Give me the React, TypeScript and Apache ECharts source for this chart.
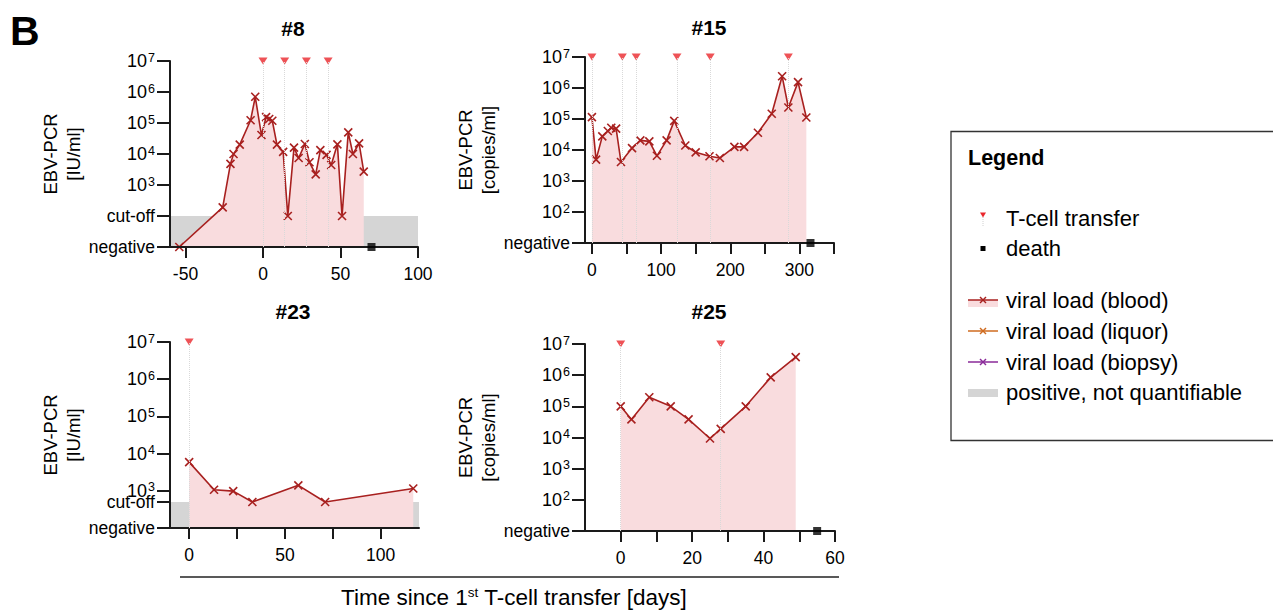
import React, { useEffect, useRef } from 'react';
import * as echarts from 'echarts';

const FONT = "'Liberation Sans', Arial, Helvetica, sans-serif";
const RED = '#a8201f';
const PINK = '#f9dcde';
const GRAY = '#d5d5d5';
const TRI = '#ea272c';
const ORANGE = '#cf6b1f';
const PURPLE = '#8a2a99';

// ---- Patient #8 (IU/ml); "negative" plotted at 10, "cut-off" at 100
const P8_NEG = 10;
const P8_CUT = 100;
const P8_DAYS = [-54, -26, -21, -19, -15, -8, -5, -1, 2, 4, 6, 9, 13, 16, 20, 23, 27, 30, 34, 37, 41, 44, 48, 51, 55, 58, 62, 65];
const P8_BLOOD = [10, 190, 4800, 10000, 20000, 123000, 700000, 41000, 155000, 135000, 118000, 20000, 11700, 100, 16000, 7400, 21000, 5400, 2200, 13400, 9400, 4400, 20500, 100, 50000, 10000, 22000, 2700];
const P8_TRANSFERS = [0, 14, 28, 42];
const P8_DEATH = [70];
const P8_X_RANGE = [-60, 100];
const P8_X_TICKS = [-50, 0, 50, 100];
const P8_X_LABELS = [-50, 0, 50, 100];

// ---- Patient #15 (copies/ml); "negative" plotted at 10
const P15_NEG = 10;
const P15_DAYS = [0, 6, 15, 23, 28, 35, 42, 58, 70, 83, 94, 108, 119, 135, 150, 170, 185, 206, 220, 240, 260, 275, 284, 298, 310];
const P15_BLOOD = [115000, 4900, 27500, 41000, 52000, 49000, 4100, 11500, 20500, 19000, 6500, 20500, 87000, 14000, 8400, 6300, 5500, 12600, 12600, 36000, 148000, 2400000, 235000, 1550000, 112000];
const P15_TRANSFERS = [0, 44, 64, 123, 171, 284];
const P15_DEATH = [316];
const P15_X_RANGE = [-10, 350];
const P15_X_TICKS = [0, 50, 100, 150, 200, 250, 300, 350];
const P15_X_LABELS = [0, 100, 200, 300];

// ---- Patient #23 (IU/ml); "negative" plotted at 100, "cut-off" at 500
const P23_NEG = 100;
const P23_CUT = 500;
const P23_DAYS = [0, 13, 23, 33, 57, 71, 117];
const P23_BLOOD = [5900, 1070, 980, 500, 1400, 500, 1150];
const P23_TRANSFERS = [0];
const P23_DEATH: number[] = [];
const P23_X_RANGE = [-10, 120];
const P23_X_TICKS = [0, 25, 50, 75, 100];
const P23_X_LABELS = [0, 50, 100];

// ---- Patient #25 (copies/ml); "negative" plotted at 10
const P25_NEG = 10;
const P25_DAYS = [0, 3, 8, 14, 19, 25, 28, 35, 42, 49];
const P25_BLOOD = [100000, 38000, 195000, 100000, 38000, 9300, 19000, 100000, 850000, 3800000];
const P25_TRANSFERS = [0, 28];
const P25_DEATH = [55];
const P25_X_RANGE = [-10, 60];
const P25_X_TICKS = [0, 10, 20, 30, 40, 50, 60];
const P25_X_LABELS = [0, 20, 40, 60];

const Y_TOP = 1e7;
const Y_TICKS_CUT8 = [10, 100, 1e3, 1e4, 1e5, 1e6, 1e7];
const Y_TICKS_COPIES = [10, 100, 1e3, 1e4, 1e5, 1e6, 1e7];
const Y_TICKS_CUT23 = [100, 500, 1e3, 1e4, 1e5, 1e6, 1e7];

const X_SYMBOL = 'path://M0 0L10 10M10 0L0 10';

type Panel = {
  title: string;
  unit: string;
  neg: number;
  cut: number | null;
  days: number[];
  blood: number[];
  transfers: number[];
  death: number[];
  xRange: number[];
  xTicks: number[];
  xLabels: number[];
  yTicks: number[];
  grid: { left: number; top: number; width: number; height: number };
  titlePos: [number, number];
};

const PANELS: Panel[] = [
  { title: '#8', unit: '[IU/ml]', neg: P8_NEG, cut: P8_CUT, days: P8_DAYS, blood: P8_BLOOD, transfers: P8_TRANSFERS, death: P8_DEATH, xRange: P8_X_RANGE, xTicks: P8_X_TICKS, xLabels: P8_X_LABELS, yTicks: Y_TICKS_CUT8, grid: { left: 170, top: 61, width: 248, height: 186 }, titlePos: [293, 28] },
  { title: '#15', unit: '[copies/ml]', neg: P15_NEG, cut: null, days: P15_DAYS, blood: P15_BLOOD, transfers: P15_TRANSFERS, death: P15_DEATH, xRange: P15_X_RANGE, xTicks: P15_X_TICKS, xLabels: P15_X_LABELS, yTicks: Y_TICKS_COPIES, grid: { left: 585, top: 57, width: 249, height: 186 }, titlePos: [709, 27] },
  { title: '#23', unit: '[IU/ml]', neg: P23_NEG, cut: P23_CUT, days: P23_DAYS, blood: P23_BLOOD, transfers: P23_TRANSFERS, death: P23_DEATH, xRange: P23_X_RANGE, xTicks: P23_X_TICKS, xLabels: P23_X_LABELS, yTicks: Y_TICKS_CUT23, grid: { left: 170, top: 342, width: 249, height: 186 }, titlePos: [293, 311] },
  { title: '#25', unit: '[copies/ml]', neg: P25_NEG, cut: null, days: P25_DAYS, blood: P25_BLOOD, transfers: P25_TRANSFERS, death: P25_DEATH, xRange: P25_X_RANGE, xTicks: P25_X_TICKS, xLabels: P25_X_LABELS, yTicks: Y_TICKS_COPIES, grid: { left: 585, top: 344, width: 250, height: 187 }, titlePos: [709, 311] },
];

const lg = (v: number) => Math.log10(v);

function buildOption() {
  const grids: any[] = [];
  const xAxes: any[] = [];
  const yAxes: any[] = [];
  const series: any[] = [];
  const graphics: any[] = [];

  PANELS.forEach((p, i) => {
    grids.push({ ...p.grid, containLabel: false });
    const axisLine = { show: true, onZero: false, lineStyle: { color: '#1a1a1a', width: 2 } };
    xAxes.push({
      type: 'value',
      gridIndex: i,
      min: p.xRange[0],
      max: p.xRange[1],
      z: 4,
      axisLine,
      splitLine: { show: false },
      axisTick: { show: true, length: 11, customValues: p.xTicks, lineStyle: { color: '#1a1a1a', width: 2 } },
      axisLabel: { customValues: p.xLabels, margin: 18, color: '#000', fontSize: 17.5, fontFamily: FONT },
    });
    const negL = lg(p.neg);
    const cutL = p.cut != null ? lg(p.cut) : null;
    yAxes.push({
      type: 'value',
      gridIndex: i,
      min: negL,
      max: lg(Y_TOP),
      z: 4,
      name: 'EBV-PCR\n' + p.unit,
      nameLocation: 'middle',
      nameRotate: 90,
      nameGap: 81,
      nameTextStyle: { color: '#000', fontSize: 18.5, lineHeight: 23, fontFamily: FONT },
      axisLine,
      splitLine: { show: false },
      axisTick: { show: true, length: 13, customValues: p.yTicks.map(lg), lineStyle: { color: '#1a1a1a', width: 2 } },
      axisLabel: {
        customValues: p.yTicks.map(lg),
        margin: 15,
        color: '#000',
        fontSize: 17.5,
        fontFamily: FONT,
        formatter: (val: number) => {
          if (Math.abs(val - negL) < 1e-6) return 'negative';
          if (cutL != null && Math.abs(val - cutL) < 1e-6) return 'cut-off';
          return `{b|10}{s|${Math.round(val)}}`;
        },
        rich: {
          b: { fontSize: 18, lineHeight: 20, fontFamily: FONT, color: '#000' },
          s: { fontSize: 12.5, lineHeight: 12, fontFamily: FONT, color: '#000', verticalAlign: 'top', padding: [0, 0, 0, 1] },
        },
      },
    });

    if (cutL != null) {
      series.push({
        type: 'line',
        xAxisIndex: i,
        yAxisIndex: i,
        data: [[p.xRange[0], cutL], [p.xRange[1], cutL]],
        symbol: 'none',
        lineStyle: { width: 0 },
        areaStyle: { color: GRAY, opacity: 1 },
        silent: true,
        z: 1,
      });
    }

    series.push({
      type: 'line',
      name: 'viral load (blood)',
      xAxisIndex: i,
      yAxisIndex: i,
      data: p.days.map((d, k) => [d, lg(p.blood[k])]),
      symbol: X_SYMBOL,
      symbolSize: 8,
      showAllSymbol: true,
      clip: false,
      lineStyle: { color: RED, width: 1.6 },
      itemStyle: { color: RED, borderColor: RED, borderWidth: 1.6 },
      areaStyle: { color: PINK, opacity: 1, origin: 'start' },
      silent: true,
      z: 2,
    });

    series.push({
      type: 'scatter',
      name: 'T-cell transfer',
      xAxisIndex: i,
      yAxisIndex: i,
      data: p.transfers.map((d) => [d, lg(Y_TOP)]),
      symbol: 'triangle',
      symbolRotate: 180,
      symbolSize: [9, 7],
      itemStyle: { color: TRI },
      silent: true,
      z: 3,
      markLine: {
        silent: true,
        symbol: ['none', 'none'],
        label: { show: false },
        lineStyle: { type: 'dotted', color: '#d9d9d9', width: 1 },
        data: p.transfers.map((d) => ({ xAxis: d })),
      },
    });

    if (p.death.length) {
      series.push({
        type: 'scatter',
        name: 'death',
        xAxisIndex: i,
        yAxisIndex: i,
        data: p.death.map((d) => [d, negL]),
        symbol: 'rect',
        symbolSize: 8,
        itemStyle: { color: '#000' },
        silent: true,
        z: 6,
      });
    }

    graphics.push({
      type: 'text',
      x: p.titlePos[0],
      y: p.titlePos[1],
      style: { text: p.title, fontSize: 21, fontWeight: 'bold', fontFamily: FONT, fill: '#000', align: 'center', verticalAlign: 'middle' },
    });
  });

  // Panel letter
  graphics.push({
    type: 'text', x: 10, y: 31,
    style: { text: 'B', fontSize: 41, fontWeight: 'bold', fontFamily: FONT, fill: '#000', align: 'left', verticalAlign: 'middle' },
  });

  // Shared x-axis title
  graphics.push({ type: 'line', shape: { x1: 180, y1: 577, x2: 839, y2: 577 }, style: { stroke: '#222', lineWidth: 1.3 } });
  graphics.push({
    type: 'text', x: 514, y: 597,
    style: {
      text: '{a|Time since 1}{s|st}{a| T-cell transfer [days]}',
      align: 'center', verticalAlign: 'middle', fill: '#000',
      rich: {
        a: { fontSize: 22.5, fontFamily: FONT, fill: '#000' },
        s: { fontSize: 13.5, fontFamily: FONT, fill: '#000', verticalAlign: 'top' },
      },
    },
  });

  // Legend box
  const txt = (x: number, y: number, t: string, bold = false) => ({
    type: 'text', x, y,
    style: { text: t, fontSize: bold ? 21.5 : 22, fontWeight: bold ? 'bold' : 'normal', fontFamily: FONT, fill: '#000', align: 'left', verticalAlign: 'middle' },
  });
  const xMark = (cx: number, cy: number, color: string) => [
    { type: 'line', shape: { x1: cx - 3, y1: cy - 3, x2: cx + 3, y2: cy + 3 }, style: { stroke: color, lineWidth: 1.4 } },
    { type: 'line', shape: { x1: cx + 3, y1: cy - 3, x2: cx - 3, y2: cy + 3 }, style: { stroke: color, lineWidth: 1.4 } },
  ];
  graphics.push({ type: 'rect', shape: { x: 951, y: 131.5, width: 340, height: 309 }, style: { fill: 'none', stroke: '#333', lineWidth: 1.3 } });
  graphics.push(txt(968, 158, 'Legend', true));
  graphics.push({ type: 'line', shape: { x1: 983, y1: 217, x2: 983, y2: 226 }, style: { stroke: '#d0d0d0', lineWidth: 1, lineDash: [1, 1] } });
  graphics.push({ type: 'polygon', shape: { points: [[980, 212.5], [986, 212.5], [983, 217.5]] }, style: { fill: TRI } });
  graphics.push(txt(1006, 218, 'T-cell transfer'));
  graphics.push({ type: 'rect', shape: { x: 980.5, y: 246, width: 5, height: 5 }, style: { fill: '#000' } });
  graphics.push(txt(1006, 248, 'death'));
  graphics.push({ type: 'rect', shape: { x: 968, y: 300, width: 30, height: 7 }, style: { fill: PINK } });
  graphics.push({ type: 'line', shape: { x1: 968, y1: 300, x2: 998, y2: 300 }, style: { stroke: RED, lineWidth: 1.5 } });
  graphics.push(...xMark(983, 300, RED));
  graphics.push(txt(1006, 300, 'viral load (blood)'));
  graphics.push({ type: 'line', shape: { x1: 968, y1: 331, x2: 998, y2: 331 }, style: { stroke: ORANGE, lineWidth: 1.5 } });
  graphics.push(...xMark(983, 331, ORANGE));
  graphics.push(txt(1006, 331, 'viral load (liquor)'));
  graphics.push({ type: 'line', shape: { x1: 968, y1: 362, x2: 998, y2: 362 }, style: { stroke: PURPLE, lineWidth: 1.5 } });
  graphics.push(...xMark(983, 362, PURPLE));
  graphics.push(txt(1006, 362, 'viral load (biopsy)'));
  graphics.push({ type: 'rect', shape: { x: 968, y: 389, width: 30, height: 8 }, style: { fill: GRAY } });
  graphics.push(txt(1006, 392, 'positive, not quantifiable'));

  return {
    animation: false,
    backgroundColor: '#fff',
    textStyle: { fontFamily: FONT },
    grid: grids,
    xAxis: xAxes,
    yAxis: yAxes,
    series,
    graphic: graphics,
  };
}

export default function App() {
  const ref = useRef<HTMLDivElement>(null);
  useEffect(() => {
    if (!ref.current) return;
    const chart = echarts.init(ref.current, null, { renderer: 'svg' });
    chart.setOption(buildOption() as any);
    return () => chart.dispose();
  }, []);
  return (
    <div
      ref={ref}
      style={{ position: 'absolute', left: 0, top: 0, width: 1273, height: 610, background: '#fff' }}
    />
  );
}
